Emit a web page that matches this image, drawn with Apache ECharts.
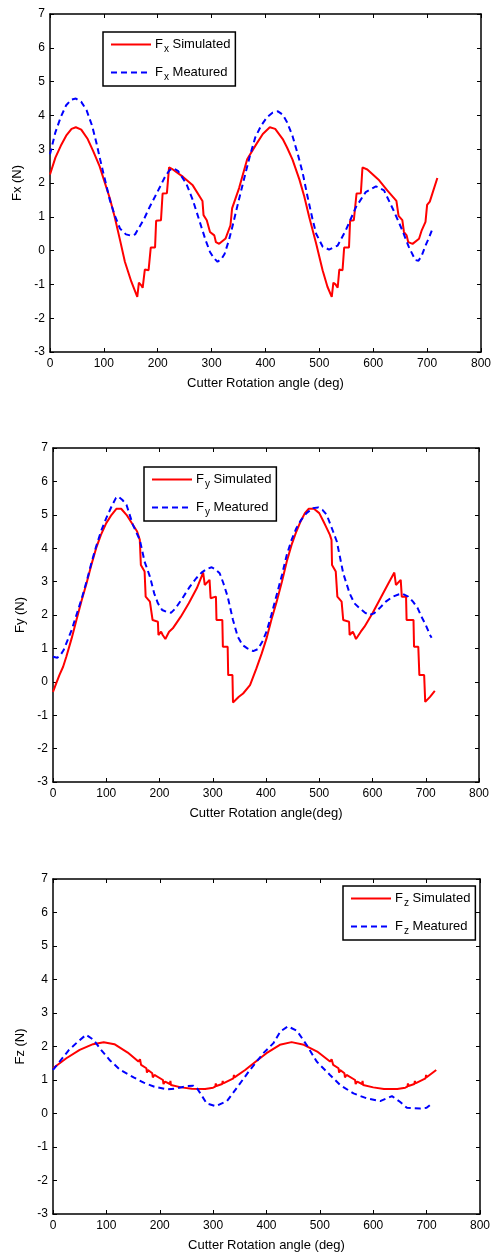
<!DOCTYPE html>
<html><head><meta charset="utf-8">
<script src="https://cdn.jsdelivr.net/npm/echarts@6/dist/echarts.min.js"></script>
<style>html,body{margin:0;padding:0;background:#fff}#c{width:494px;height:1257px}</style>
</head><body><div id="c"></div>
<script>
// ---------- data ----------
const xRange = [0, 800, 100];   // min, max, step
const yRange = [-3, 7, 1];
const xTitles = ['Cutter Rotation angle (deg)', 'Cutter Rotation angle(deg)', 'Cutter Rotation angle (deg)'];
const yTitles = ['Fx (N)', 'Fy (N)', 'Fz (N)'];
const simNames = ['Fx Simulated', 'Fy Simulated', 'Fz Simulated'];
const meaNames = ['Fx Meatured', 'Fy Meatured', 'Fz Meatured'];

const fxSim = [[0,2.25],[10,2.75],[20,3.1],[30,3.4],[40,3.6],[48,3.65],[58,3.58],[70,3.3],[80,2.95],[92,2.5],[100,2.1],[111,1.55],[120,1.0],[130,0.31],[139,-0.33],[151,-0.92],[162,-1.37],[165,-0.95],[169,-1.02],[172,-1.1],[176,-0.56],[183,-0.58],[187,0.09],[195,0.09],[197,0.88],[206,0.9],[209,1.69],[217,1.7],[221,2.46],[228,2.4],[247,2.18],[265,1.93],[283,1.47],[285,1.05],[291,0.9],[297,0.55],[305,0.45],[308,0.25],[314,0.2],[326,0.36],[335,0.75],[338,1.25],[351,1.85],[366,2.7],[383,3.15],[395,3.45],[408,3.65],[418,3.6],[432,3.3],[440,3.05],[450,2.7],[463,2.1],[472,1.6],[481,1.0],[494,0.21],[506,-0.58],[515,-1.07],[523,-1.37],[526,-0.95],[530,-1.0],[534,-1.1],[537,-0.56],[543,-0.58],[546,0.09],[555,0.09],[557,0.88],[564,0.9],[569,1.69],[577,1.7],[580,2.46],[589,2.4],[611,2.08],[626,1.78],[643,1.47],[647,1.03],[654,0.9],[657,0.55],[662,0.45],[665,0.25],[673,0.2],[685,0.35],[690,0.6],[697,0.85],[700,1.35],[705,1.45],[710,1.7],[719,2.15]];
const fxMea = [[0,2.85],[10,3.5],[20,3.95],[30,4.3],[40,4.47],[48,4.5],[58,4.4],[68,4.15],[78,3.7],[86,3.2],[93,2.7],[99,2.3],[111,1.5],[120,1.05],[130,0.65],[141,0.48],[151,0.44],[158,0.48],[166,0.7],[175,0.95],[185,1.29],[195,1.6],[204,1.88],[214,2.2],[222,2.38],[230,2.43],[238,2.35],[253,1.98],[265,1.5],[273,1.1],[281,0.7],[289,0.3],[297,-0.04],[304,-0.22],[311,-0.33],[318,-0.25],[324,-0.1],[332,0.3],[340,0.8],[349,1.4],[358,1.98],[371,2.8],[381,3.35],[392,3.7],[403,3.95],[413,4.08],[423,4.12],[432,4.02],[440,3.8],[450,3.4],[460,2.85],[469,2.3],[478,1.6],[487,0.95],[494,0.5],[506,0.12],[518,0.03],[534,0.15],[549,0.6],[568,1.29],[586,1.73],[605,1.9],[620,1.78],[638,1.18],[654,0.6],[666,0.11],[678,-0.28],[684,-0.3],[690,-0.15],[697,0.15],[704,0.4],[710,0.65]];

const fySim = [[0,-0.3],[6,-0.05],[12,0.2],[19,0.45],[25,0.75],[35,1.3],[44,1.85],[54,2.45],[63,2.95],[72,3.5],[81,4.0],[90,4.4],[100,4.75],[110,5.0],[119,5.18],[128,5.18],[138,5.0],[150,4.7],[158,4.5],[163,4.25],[165,3.5],[172,3.3],[174,2.55],[182,2.4],[187,1.85],[197,1.8],[198,1.4],[203,1.5],[206,1.4],[211,1.28],[218,1.5],[225,1.6],[240,1.95],[255,2.35],[270,2.8],[282,3.27],[285,2.9],[294,3.05],[296,2.5],[306,2.55],[307,1.85],[318,1.85],[319,1.05],[328,1.05],[329,0.2],[337,0.2],[338,-0.62],[349,-0.45],[357,-0.35],[370,-0.1],[382,0.4],[392,0.85],[401,1.3],[410,1.85],[420,2.4],[430,3.0],[439,3.6],[448,4.1],[457,4.5],[465,4.8],[473,5.05],[480,5.18],[490,5.18],[500,5.05],[508,4.8],[514,4.6],[520,4.4],[523,4.25],[524,3.5],[531,3.3],[534,2.55],[542,2.4],[545,1.85],[556,1.8],[557,1.4],[563,1.5],[566,1.4],[569,1.28],[578,1.5],[585,1.65],[600,2.05],[615,2.5],[630,2.95],[641,3.27],[644,2.9],[653,3.05],[655,2.55],[663,2.55],[664,1.85],[677,1.85],[678,1.05],[686,1.05],[688,0.2],[697,0.2],[699,-0.6],[708,-0.45],[717,-0.27]];
const fyMea = [[0,0.75],[8,0.72],[14,0.8],[20,0.95],[25,1.15],[35,1.55],[44,2.0],[54,2.5],[63,3.0],[72,3.55],[81,4.05],[90,4.5],[100,4.9],[110,5.25],[118,5.5],[122,5.55],[130,5.45],[138,5.3],[150,4.7],[163,4.25],[172,3.6],[182,3.15],[190,2.65],[197,2.35],[205,2.15],[215,2.08],[222,2.07],[230,2.2],[243,2.5],[257,2.85],[269,3.1],[279,3.27],[289,3.38],[298,3.43],[306,3.35],[313,3.25],[320,2.95],[328,2.55],[338,1.85],[347,1.35],[356,1.1],[365,1.0],[376,0.92],[385,0.98],[393,1.2],[401,1.5],[410,2.0],[420,2.6],[430,3.2],[439,3.8],[448,4.25],[457,4.6],[466,4.85],[476,5.05],[488,5.2],[498,5.22],[506,5.15],[514,5.0],[520,4.75],[526,4.5],[533,4.2],[545,3.25],[557,2.65],[566,2.35],[576,2.2],[585,2.08],[594,2.0],[603,2.05],[613,2.2],[625,2.4],[638,2.55],[650,2.62],[657,2.63],[667,2.55],[676,2.4],[685,2.2],[692,1.95],[700,1.7],[708,1.4],[711,1.32]];

const fzSim = [[0,1.35],[25,1.65],[50,1.9],[75,2.07],[95,2.13],[115,2.07],[140,1.82],[160,1.55],[163,1.62],[165,1.45],[175,1.35],[176,1.22],[178,1.3],[186,1.2],[187,1.08],[190,1.15],[206,1.0],[207,0.88],[210,0.95],[219,0.88],[220,0.97],[221,0.85],[240,0.78],[260,0.74],[285,0.73],[300,0.77],[304,0.8],[305,0.9],[306,0.82],[317,0.88],[318,0.97],[319,0.9],[338,1.05],[339,1.15],[340,1.08],[360,1.3],[380,1.55],[400,1.8],[425,2.05],[447,2.13],[470,2.05],[495,1.85],[519,1.55],[522,1.62],[525,1.45],[535,1.35],[536,1.22],[538,1.3],[546,1.2],[547,1.08],[550,1.15],[566,1.0],[567,0.88],[570,0.95],[579,0.88],[580,0.97],[581,0.85],[600,0.78],[620,0.73],[645,0.73],[660,0.77],[664,0.8],[665,0.9],[666,0.82],[677,0.88],[678,0.97],[679,0.9],[698,1.05],[699,1.15],[700,1.08],[718,1.3]];
const fzMea = [[0,1.3],[15,1.6],[30,1.9],[45,2.12],[62,2.35],[76,2.2],[90,1.9],[107,1.58],[126,1.3],[151,1.08],[170,0.92],[190,0.8],[213,0.72],[232,0.75],[250,0.82],[263,0.83],[270,0.75],[278,0.55],[288,0.3],[305,0.22],[326,0.37],[345,0.78],[369,1.3],[394,1.8],[413,2.1],[426,2.45],[440,2.6],[457,2.47],[475,2.05],[494,1.55],[519,1.15],[538,0.85],[563,0.6],[588,0.45],[613,0.37],[635,0.52],[650,0.35],[663,0.17],[688,0.15],[700,0.17],[710,0.3]];

const simData = [fxSim, fySim, fzSim];
const meaData = [fxMea, fyMea, fzMea];

// ---------- layout ----------
const FONT = 'Liberation Sans, Arial, sans-serif';
const grids = [
  {left: 50, top: 14, width: 432, height: 338},
  {left: 53, top: 448, width: 426, height: 334},
  {left: 53, top: 879, width: 427, height: 335}
];
const legendPos = [{left: 103, top: 32}, {left: 144, top: 467}, {left: 343, top: 886}];

const axisLine = {show: true, onZero: false, lineStyle: {color: '#000', width: 1.5}};
const axisTick = {show: true, inside: true, length: 4, lineStyle: {color: '#000', width: 1}};
const xAxes = [], yAxes = [], series = [], legends = [];
grids.forEach((g, i) => {
  const xb = {gridIndex: i, type: 'value', min: xRange[0], max: xRange[1], interval: xRange[2]};
  const yb = {gridIndex: i, type: 'value', min: yRange[0], max: yRange[1], interval: yRange[2]};
  xAxes.push(Object.assign({}, xb, {position: 'bottom', axisLine, axisTick, splitLine: {show: false},
    axisLabel: {color: '#000', fontSize: 12, fontFamily: FONT, margin: 6},
    name: xTitles[i], nameLocation: 'middle', nameGap: 25,
    nameTextStyle: {color: '#000', fontSize: 13, fontFamily: FONT}}));
  xAxes.push(Object.assign({}, xb, {position: 'top', axisLine, axisTick, splitLine: {show: false}, axisLabel: {show: false}}));
  yAxes.push(Object.assign({}, yb, {position: 'left', axisLine, axisTick, splitLine: {show: false},
    axisLabel: {color: '#000', fontSize: 12, fontFamily: FONT, margin: 5},
    name: yTitles[i], nameLocation: 'middle', nameGap: 18,
    nameTextStyle: {color: '#000', fontSize: 13, fontFamily: FONT}}));
  yAxes.push(Object.assign({}, yb, {position: 'right', axisLine, axisTick, splitLine: {show: false}, axisLabel: {show: false}}));
  series.push({name: simNames[i], type: 'line', xAxisIndex: 2*i, yAxisIndex: 2*i, data: simData[i],
    symbol: 'none', showSymbol: false, animation: false,
    lineStyle: {color: '#ff0000', width: 2, type: 'solid'}, itemStyle: {color: '#ff0000'}});
  series.push({name: meaNames[i], type: 'line', xAxisIndex: 2*i, yAxisIndex: 2*i, data: meaData[i],
    symbol: 'none', showSymbol: false, animation: false,
    lineStyle: {color: '#0000ff', width: 2, type: [6, 4]}, itemStyle: {color: '#0000ff'}});
  legends.push(Object.assign({}, legendPos[i], {
    data: [simNames[i], meaNames[i]], orient: 'vertical',
    itemWidth: 40, itemHeight: 14, itemGap: 12, padding: [6, 5, 4, 7],
    borderColor: '#000', borderWidth: 1.5, backgroundColor: '#fff', selectedMode: false,
    itemStyle: {opacity: 0},
    formatter: function (name) {
      const parts = name.split(' ');
      return '{m|F}{s|' + parts[0].slice(1) + '}{m| ' + parts[1] + '}';
    },
    textStyle: {color: '#000', fontFamily: FONT, fontSize: 13, padding: [0, 0, 0, -1],
      rich: {m: {fontSize: 13, fontFamily: FONT, color: '#000'},
             s: {fontSize: 10, fontFamily: FONT, color: '#000', padding: [9, 0, 0, 1]}}}
  }));
});

const chart = echarts.init(document.getElementById('c'), null, {renderer: 'canvas'});
chart.setOption({
  animation: false,
  backgroundColor: '#fff',
  grid: grids,
  xAxis: xAxes,
  yAxis: yAxes,
  legend: legends,
  series: series
});
</script></body></html>
